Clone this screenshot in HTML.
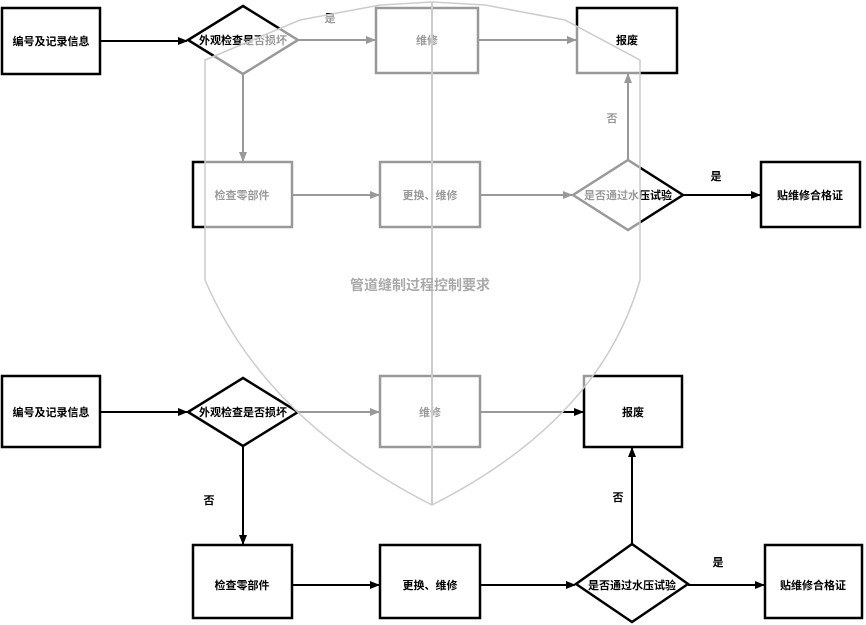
<!DOCTYPE html>
<html><head><meta charset="utf-8"><style>
html,body{margin:0;padding:0;background:#fff}
svg{display:block}
text{font-family:"Liberation Sans","Noto Sans CJK SC",sans-serif;font-size:11px;font-weight:bold;fill:#000}
</style></head><body>
<svg width="866" height="625" viewBox="0 0 866 625" xmlns="http://www.w3.org/2000/svg">
<defs><marker id="a" markerWidth="10" markerHeight="8" refX="9" refY="4" orient="auto" markerUnits="userSpaceOnUse"><path d="M0,0L10,4L0,8z" fill="#000"/></marker></defs>
<g fill="#fff" stroke="#000" stroke-width="2.5">
<rect x="2" y="8" width="98" height="66"/>
<polygon points="243,6 298,40 243,74 188,40"/>
<rect x="376" y="8" width="102" height="65"/>
<rect x="577" y="8" width="100" height="65"/>
<rect x="193" y="162" width="99" height="65"/>
<rect x="380" y="162" width="100" height="65"/>
<polygon points="628,160 683,195 628,230 573,195"/>
<rect x="761" y="162" width="99" height="65"/>
<rect x="2" y="376" width="98" height="71"/>
<polygon points="243,378 298,412 243,446 188,412"/>
<rect x="380" y="376" width="100" height="71"/>
<rect x="584" y="376" width="98" height="71"/>
<rect x="193" y="545" width="99" height="73"/>
<rect x="380" y="545" width="100" height="73"/>
<polygon points="632,544 688,584 632,622 576,584"/>
<rect x="765" y="545" width="97" height="73"/>
</g>
<g stroke="#000" stroke-width="2" fill="none" marker-end="url(#a)">
<line x1="100" y1="41" x2="187" y2="41"/>
<line x1="298" y1="40" x2="375" y2="40"/>
<line x1="478" y1="40" x2="576" y2="40"/>
<line x1="243" y1="74" x2="243" y2="161"/>
<line x1="292" y1="195" x2="379" y2="195"/>
<line x1="480" y1="195" x2="572" y2="195"/>
<line x1="628" y1="160" x2="628" y2="74"/>
<line x1="683" y1="195" x2="760" y2="195"/>
<line x1="100" y1="412" x2="187" y2="412"/>
<line x1="298" y1="412" x2="379" y2="412"/>
<line x1="480" y1="412" x2="583" y2="412"/>
<line x1="243" y1="446" x2="243" y2="544"/>
<line x1="292" y1="585" x2="379" y2="585"/>
<line x1="480" y1="585" x2="575" y2="585"/>
<line x1="632" y1="544" x2="632" y2="448"/>
<line x1="688" y1="585" x2="764" y2="585"/>
</g>
<g text-anchor="middle">
<text x="51" y="45">编号及记录信息</text>
<text x="243" y="44">外观检查是否损坏</text>
<text x="330" y="22">是</text>
<text x="427" y="44">维修</text>
<text x="627" y="44">报废</text>
<text x="242" y="199">检查零部件</text>
<text x="430" y="199">更换、维修</text>
<text x="628" y="199">是否通过水压试验</text>
<text x="612" y="122">否</text>
<text x="716" y="180">是</text>
<text x="810" y="199">贴维修合格证</text>
<text x="51" y="416">编号及记录信息</text>
<text x="243" y="416">外观检查是否损坏</text>
<text x="430" y="416">维修</text>
<text x="633" y="416">报废</text>
<text x="209" y="504">否</text>
<text x="242" y="589">检查零部件</text>
<text x="430" y="589">更换、维修</text>
<text x="632" y="589">是否通过水压试验</text>
<text x="618" y="501">否</text>
<text x="718" y="566">是</text>
<text x="813" y="589">贴维修合格证</text>
</g>
<path d="M205,60 L300,20 L380,5 L432,2 L485,5 L565,20 L640,60 L640,280 Q600,420 432,505 Q265,420 205,280 Z" fill="#fff" fill-opacity="0.6" stroke="#ccc" stroke-width="1.5"/>
<line x1="432" y1="2" x2="432" y2="505" stroke="#ccc" stroke-width="2"/>
<text x="420" y="290" text-anchor="middle" style="fill:#aaa;font-size:14px">管道缝制过程控制要求</text>
</svg>
</body></html>
